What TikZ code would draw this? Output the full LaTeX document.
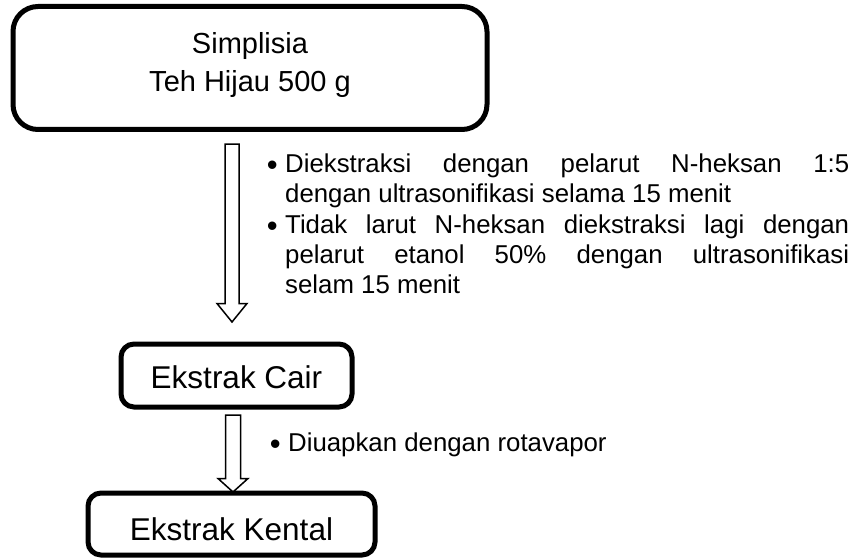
\documentclass[tikz,border=0pt]{standalone}
\usepackage{fontspec}
\setmainfont{Liberation Sans}
\usetikzlibrary{calc}
\newcommand\blockarr[5]{%
  \draw[barrow] ($(#1)+(-#3,0)$) -- ($(#2)+(-#3,-#5)$) -- ($(#2)+(-#4,-#5)$) -- (#2)
    -- ($(#2)+(#4,-#5)$) -- ($(#2)+(#3,-#5)$) -- ($(#1)+(#3,0)$) -- cycle;}
\newcommand\bul{\llap{\raisebox{-3.5pt}{\fontsize{31}{0}\selectfont •}\hspace{7.5pt}}}
\begin{document}
\begin{tikzpicture}[x=1pt,y=-1pt,
  flowbox/.style={draw, line width=5pt, rounded corners=13pt, inner sep=0pt, outer sep=0pt},
  barrow/.style={draw, line width=1.5pt, fill=white, line join=miter},
  toptext/.style={font=\fontsize{29}{34}\selectfont, inner sep=0pt, anchor=base},
  boxtext/.style={font=\fontsize{31.5}{37}\selectfont, inner sep=0pt},
  notetext/.style={font=\fontsize{25.8}{30}\selectfont, inner sep=0pt, anchor=base west},
]
\useasboundingbox (0,0) rectangle (856,559);
% boxes
\node[flowbox, rounded corners=25pt, minimum width=474pt, minimum height=123pt] (simp) at (250,68) {};
\node[toptext] (simp1) at (250,54) {Simplisia};
\node[toptext] (simp2) at (250,92) {Teh Hijau 500 g};
% arrows (drawn before the boxes they point at)
\coordinate (a1s) at (232,144);
\coordinate (a1e) at (232,322);
\blockarr{a1s}{a1e}{7}{15}{18.5}
\coordinate (a2s) at (233,415);
\coordinate (a2e) at (233,492);
\blockarr{a2s}{a2e}{7.5}{15}{13.5}
\node[flowbox, boxtext, minimum width=231pt, minimum height=63pt, text height=25pt, text depth=0pt] (cair) at (236.5,375.5) {Ekstrak Cair};
\node[flowbox, boxtext, minimum width=287pt, minimum height=62pt, text height=32pt, text depth=0pt] (kental) at (231.5,524) {Ekstrak Kental};
% notes
\node[notetext] (n1) at (285,172) {\bul\makebox[564pt][s]{Diekstraksi dengan pelarut N-heksan 1:5}};
\node[notetext] (n2) at (285,202) {dengan ultrasonifikasi selama 15 menit};
\node[notetext] (n3) at (285,233) {\bul\makebox[564pt][s]{Tidak larut N-heksan diekstraksi lagi dengan}};
\node[notetext] (n4) at (285,263) {\makebox[564pt][s]{pelarut etanol 50\% dengan ultrasonifikasi}};
\node[notetext] (n5) at (285,293) {selam 15 menit};
\node[notetext] (n6) at (288,451) {\bul Diuapkan dengan rotavapor};
\end{tikzpicture}
\end{document}
